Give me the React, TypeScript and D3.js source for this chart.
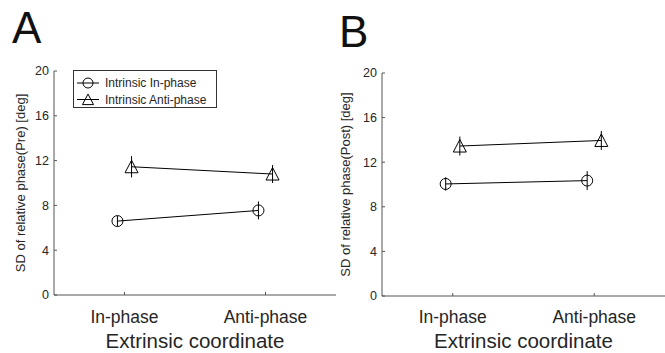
import * as d3 from "d3";

// conditions on the x axis
const categories = ["In-phase", "Anti-phase"];
const seriesNames = ["Intrinsic In-phase", "Intrinsic Anti-phase"];
const yTicks = [0, 4, 8, 12, 16, 20];

// panel A (Pre)
const preInPhase = [6.6, 7.55];
const preInPhaseErr = [0.45, 0.8];
const preAntiPhase = [11.45, 10.8];
const preAntiPhaseErr = [0.95, 0.8];

// panel B (Post)
const postInPhase = [10.05, 10.35];
const postInPhaseErr = [0.6, 0.85];
const postAntiPhase = [13.45, 13.95];
const postAntiPhaseErr = [0.85, 0.85];

const FONT = "'Liberation Sans', Arial, Helvetica, sans-serif";
const TXT = "#262626";
const AX = "#555";

const circleR = 5.5;
const triPath = (cx: number, cy: number, s = 1) =>
  `M${cx},${cy - 6.5 * s}L${cx + 6.5 * s},${cy + 6 * s}L${cx - 6.5 * s},${cy + 6 * s}Z`;

interface PanelProps {
  letter: string;
  letterX: number;
  letterY: number;
  x0: number;
  x1: number;
  yTop: number;
  yBottom: number;
  yLabel: string;
  yLabelX: number;
  inPhase: number[];
  inPhaseErr: number[];
  antiPhase: number[];
  antiPhaseErr: number[];
  legend?: boolean;
}

const Panel = (p: PanelProps) => {
  const x = d3.scaleLinear().domain([0.5, 2.5]).range([p.x0, p.x1]);
  const y = d3.scaleLinear().domain([0, 20]).range([p.yBottom, p.yTop]);
  const offset = 0.05;

  const line = d3
    .line<number>()
    .x((_, i) => x(i + 1 - offset))
    .y((d) => y(d));
  const line2 = d3
    .line<number>()
    .x((_, i) => x(i + 1 + offset))
    .y((d) => y(d));

  const midX = (p.x0 + p.x1) / 2;
  const midY = (p.yTop + p.yBottom) / 2;

  return (
    <g>
      <text x={p.letterX} y={p.letterY} fontSize={44} fill="#111" fontFamily={FONT}>
        {p.letter}
      </text>

      {/* axes */}
      <line x1={p.x0} x2={p.x0} y1={p.yTop} y2={p.yBottom} stroke={AX} />
      <line x1={p.x0} x2={p.x1} y1={p.yBottom} y2={p.yBottom} stroke={AX} />
      {yTicks.map((t) => (
        <g key={t}>
          <line x1={p.x0} x2={p.x0 + 3} y1={y(t)} y2={y(t)} stroke={AX} />
          <text
            x={p.x0 - 5}
            y={y(t)}
            dy="0.35em"
            textAnchor="end"
            fontSize={12.5}
            fill={TXT}
            fontFamily={FONT}
          >
            {t}
          </text>
        </g>
      ))}
      {categories.map((c, i) => (
        <g key={c}>
          <line x1={x(i + 1)} x2={x(i + 1)} y1={p.yBottom} y2={p.yBottom - 3} stroke={AX} />
          <text
            x={x(i + 1)}
            y={317}
            dy="0.35em"
            textAnchor="middle"
            fontSize={17.5}
            fill={TXT}
            fontFamily={FONT}
          >
            {c}
          </text>
        </g>
      ))}
      <text
        x={midX}
        y={341}
        dy="0.35em"
        textAnchor="middle"
        fontSize={20.5}
        fill={TXT}
        fontFamily={FONT}
      >
        Extrinsic coordinate
      </text>
      <text
        transform={`translate(${p.yLabelX},${midY}) rotate(-90)`}
        dy="0.35em"
        textAnchor="middle"
        fontSize={13}
        fill={TXT}
        fontFamily={FONT}
      >
        {p.yLabel}
      </text>

      {/* series lines */}
      <path d={line(p.inPhase) || ""} fill="none" stroke="#000" strokeWidth={1} />
      <path d={line2(p.antiPhase) || ""} fill="none" stroke="#000" strokeWidth={1} />

      {/* error bars */}
      {p.inPhase.map((v, i) => (
        <line
          key={"ei" + i}
          x1={x(i + 1 - offset)}
          x2={x(i + 1 - offset)}
          y1={y(v - p.inPhaseErr[i])}
          y2={y(v + p.inPhaseErr[i])}
          stroke="#000"
        />
      ))}
      {p.antiPhase.map((v, i) => (
        <line
          key={"ea" + i}
          x1={x(i + 1 + offset)}
          x2={x(i + 1 + offset)}
          y1={y(v - p.antiPhaseErr[i])}
          y2={y(v + p.antiPhaseErr[i])}
          stroke="#000"
        />
      ))}

      {/* markers */}
      {p.inPhase.map((v, i) => (
        <circle key={"ci" + i} cx={x(i + 1 - offset)} cy={y(v)} r={circleR} fill="none" stroke="#000" />
      ))}
      {p.antiPhase.map((v, i) => (
        <path key={"ta" + i} d={triPath(x(i + 1 + offset), y(v))} fill="none" stroke="#000" />
      ))}

      {p.legend && (
        <g>
          <rect x={73.5} y={70.5} width={143} height={37} fill="#fff" stroke="#333" />
          {seriesNames.map((s, i) => {
            const ry = 83 + i * 16.5;
            return (
              <g key={s}>
                <line x1={77} x2={99} y1={ry} y2={ry} stroke="#000" />
                {i === 0 ? (
                  <circle cx={88} cy={ry} r={5} fill="none" stroke="#000" />
                ) : (
                  <path d={triPath(88, ry, 0.85)} fill="none" stroke="#000" />
                )}
                <text x={105} y={ry} dy="0.35em" fontSize={12} fill={TXT} fontFamily={FONT}>
                  {s}
                </text>
              </g>
            );
          })}
        </g>
      )}
    </g>
  );
};

export default function App() {
  return (
    <svg
      width={665}
      height={353}
      style={{ position: "absolute", left: 0, top: 0, background: "#fff" }}
    >
      <Panel
        letter="A"
        letterX={12}
        letterY={43}
        x0={54}
        x1={336}
        yTop={71}
        yBottom={295}
        yLabel="SD of relative phase(Pre) [deg]"
        yLabelX={20}
        inPhase={preInPhase}
        inPhaseErr={preInPhaseErr}
        antiPhase={preAntiPhase}
        antiPhaseErr={preAntiPhaseErr}
        legend
      />
      <Panel
        letter="B"
        letterX={339}
        letterY={47}
        x0={382}
        x1={665}
        yTop={73}
        yBottom={296}
        yLabel="SD of relative phase(Post) [deg]"
        yLabelX={345}
        inPhase={postInPhase}
        inPhaseErr={postInPhaseErr}
        antiPhase={postAntiPhase}
        antiPhaseErr={postAntiPhaseErr}
      />
    </svg>
  );
}
